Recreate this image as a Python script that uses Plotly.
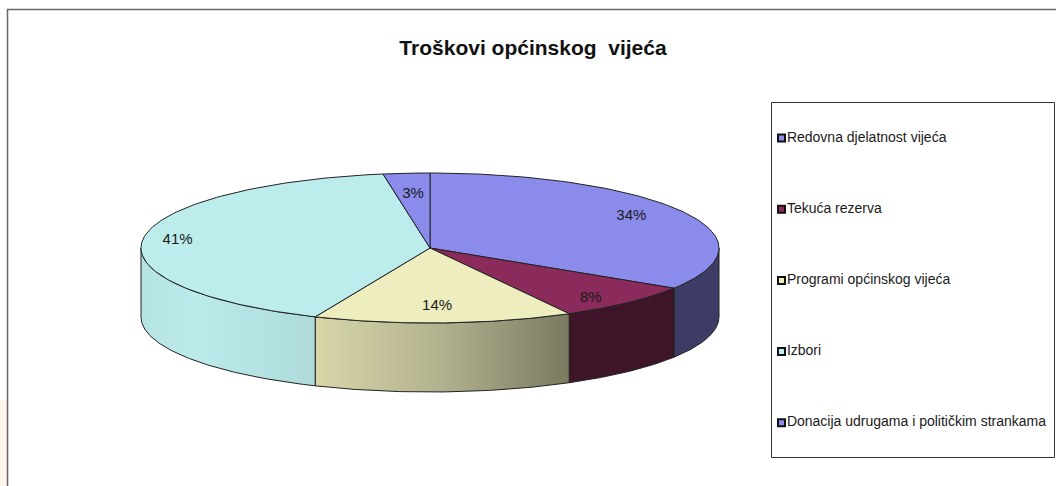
import numpy as np
import plotly.graph_objects as go

CATEGORIES = ["Redovna djelatnost vijeća", "Tekuća rezerva", "Programi općinskog vijeća",
              "Izbori", "Donacija udrugama i političkim strankama"]
VALUES = [34, 8, 14.5, 40.9, 2.6]
PERCENT_LABELS = ["34%", "8%", "14%", "41%", "3%"]
TOP_COLORS = ["#8B8BEC", "#8B2B5B", "#EEEDC0", "#BCECEC", "#8B8BEC"]
SIDE_STOPS = [
    [(0, "#3C3C66"), (1, "#3C3C66")],
    [(0, "#3E1528"), (1, "#3E1528")],
    [(0, "#D8D6A8"), (0.5, "#B2B18F"), (1, "#7A7A60")],
    [(0, "#B5E2E2"), (0.3, "#BCEBEB"), (1, "#AEDADA")],
    [(0, "#3C3C66"), (1, "#3C3C66")],
]
TITLE = "Troškovi općinskog  vijeća"

W, H = 1056, 486
CX, CY, RX, RY, DEPTH = 430, 248, 289, 75, 69
LABEL_RX = [0.795, 0.813, 0.52, 0.88, 0.72]
LABEL_RY = [0.88, 0.915, 0.775, 0.85, 0.72]
LEGEND_X, LEGEND_Y0, LEGEND_DY = 781.5, 138, 71.2
EDGE = "#222222"
TEXT_COLOR = "#1A1A1A"


def ellipse(deg):
    t = np.radians(deg)
    return CX + RX * np.sin(t), CY - RY * np.cos(t)


fig = go.Figure()
total = sum(VALUES)
edges = np.concatenate([[0], np.cumsum(VALUES)]) / total * 360

# side walls (only the front half of the disc is visible)
for i in range(len(VALUES)):
    a, b = max(edges[i], 90), min(edges[i + 1], 270)
    if b <= a:
        continue
    t = np.linspace(a, b, 80)
    x, y = ellipse(t)
    fig.add_trace(go.Scatter(
        x=np.concatenate([x, x[::-1], x[:1]]),
        y=np.concatenate([y, y[::-1] + DEPTH, y[:1]]),
        mode="lines", fill="toself", line=dict(color=EDGE, width=1),
        fillgradient=dict(type="horizontal", colorscale=SIDE_STOPS[i]),
        hoverinfo="skip", showlegend=False))

# top faces
for i in range(len(VALUES)):
    t = np.linspace(edges[i], edges[i + 1], 120)
    x, y = ellipse(t)
    fig.add_trace(go.Scatter(
        x=np.concatenate([[CX], x, [CX]]),
        y=np.concatenate([[CY], y, [CY]]),
        mode="lines", fill="toself", fillcolor=TOP_COLORS[i],
        line=dict(color=EDGE, width=1), name=CATEGORIES[i],
        hoverinfo="name", showlegend=False))

# percent labels
mids = (edges[:-1] + edges[1:]) / 2
fig.add_trace(go.Scatter(
    x=[CX + RX * f * np.sin(np.radians(m)) for f, m in zip(LABEL_RX, mids)],
    y=[CY - RY * f * np.cos(np.radians(m)) for f, m in zip(LABEL_RY, mids)],
    mode="text", text=PERCENT_LABELS, hoverinfo="skip", showlegend=False,
    textfont=dict(family="Liberation Sans", size=15, color=TEXT_COLOR)))

# legend entries
for i, name in enumerate(CATEGORIES):
    fig.add_trace(go.Scatter(
        x=[LEGEND_X], y=[LEGEND_Y0 + i * LEGEND_DY], mode="markers+text",
        marker=dict(symbol="square", size=7, color=TOP_COLORS[i],
                    line=dict(color="#111111", width=2)),
        text=[name], textposition="middle right",
        textfont=dict(family="Liberation Sans", size=14, color=TEXT_COLOR),
        hoverinfo="skip", showlegend=False))

axis = dict(visible=False, showgrid=False, zeroline=False, fixedrange=True)
fig.update_layout(
    width=W, height=H, margin=dict(l=0, r=0, t=0, b=0),
    paper_bgcolor="#FFFFFF", plot_bgcolor="rgba(0,0,0,0)", showlegend=False,
    xaxis=dict(axis, range=[0, W]),
    yaxis=dict(axis, range=[H, 0]),
    title=dict(text="<b>" + TITLE + "</b>", x=533 / W, xanchor="center", y=1 - 48 / H, yanchor="middle",
               font=dict(family="Liberation Sans", size=21, color="#111111")),
    shapes=[
        dict(type="rect", xref="x", yref="y", x0=0, x1=8, y0=400, y1=H, layer="below",
             fillcolor="#FCF6EC", line_width=0),
        dict(type="rect", xref="x", yref="y", x0=7.5, x1=W + 5, y0=9.5, y1=H + 5, layer="below",
             fillcolor="#FFFFFF", line=dict(color="#666666", width=1.5)),
        dict(type="rect", xref="x", yref="y", x0=771.5, x1=1054.5, y0=102.5, y1=457.5, layer="below",
             fillcolor="#FFFFFF", line=dict(color="#333333", width=1)),
    ],
)
fig.write_html("out.html", config=dict(displayModeBar=False),
               post_script="document.body.style.margin='0';document.body.style.overflow='hidden';")
